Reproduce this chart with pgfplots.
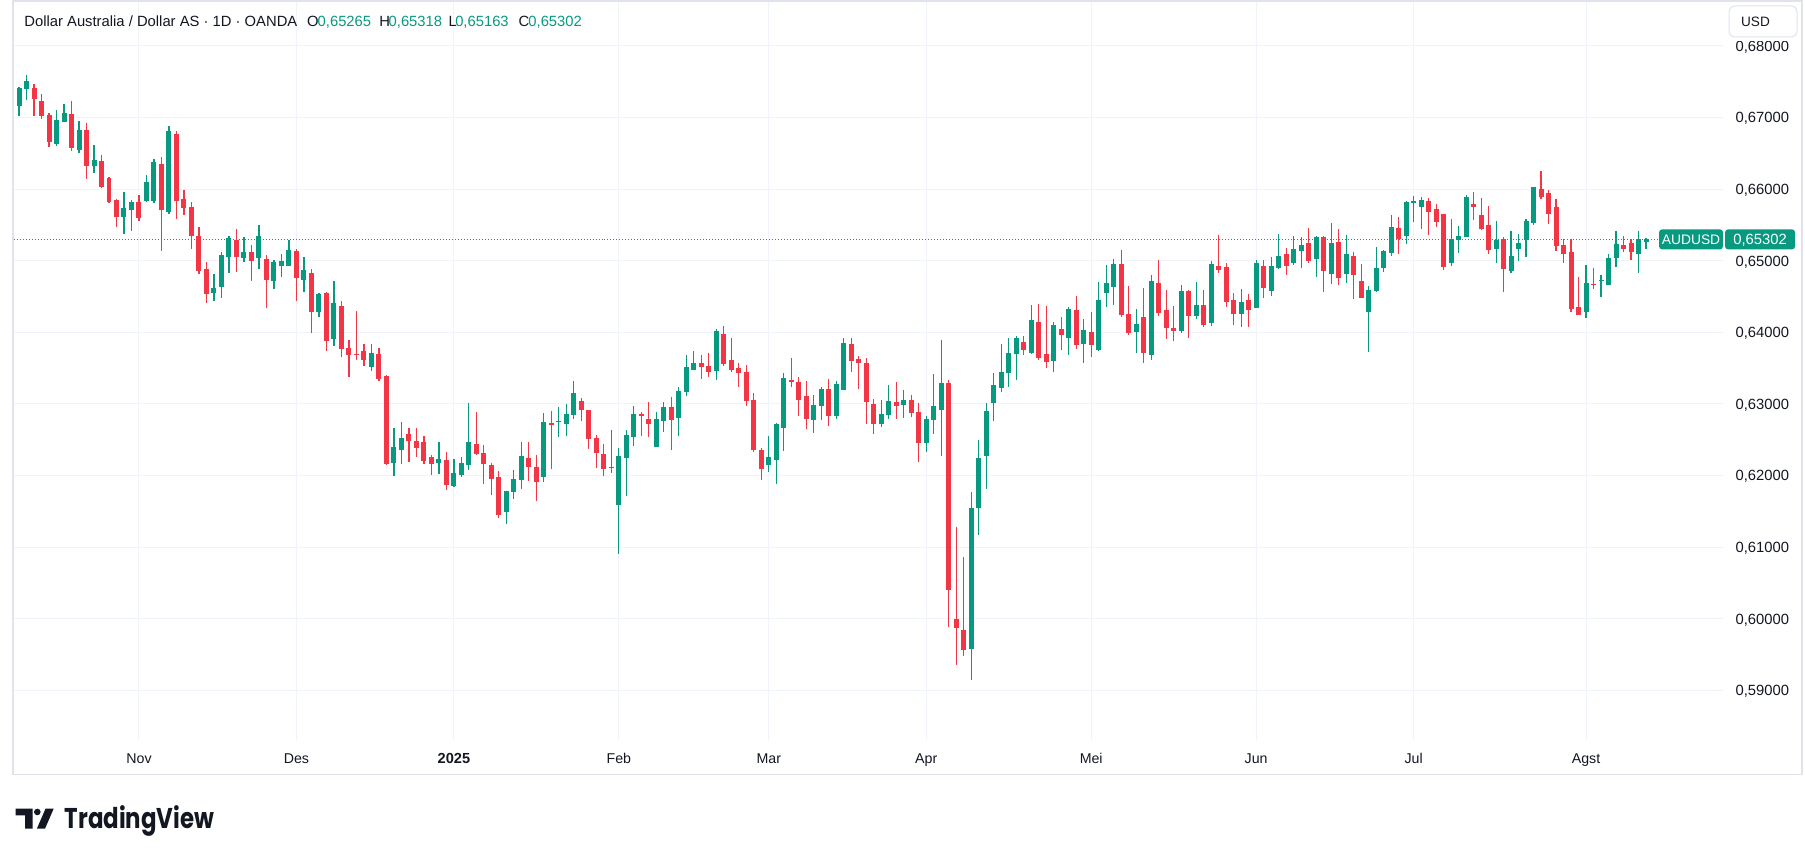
\documentclass[border=0pt]{standalone}
\usepackage{pgfplots}
\pgfplotsset{compat=1.18}
\usepackage{pgfplotstable}
\usepackage{graphicx}
\usepackage{fontspec}
\setmainfont{Liberation Sans}
\newfontfamily\logofont{Poppins}
\definecolor{tvg}{HTML}{089981}
\definecolor{tvr}{HTML}{F23645}
\definecolor{gridc}{HTML}{F0F3FA}
\definecolor{bordc}{HTML}{E0E3EB}
\definecolor{txt}{HTML}{131722}

\pgfplotstableread{
i o h l c
0 0.67167 0.67433 0.67028 0.67419
1 0.67400 0.67600 0.67247 0.67512
5 0.66633 0.67107 0.66605 0.66967
6 0.66944 0.67191 0.66944 0.67065
8 0.66553 0.66953 0.66512 0.66828
10 0.66330 0.66619 0.66219 0.66409
14 0.65605 0.65963 0.65381 0.65740
15 0.65716 0.65851 0.65409 0.65823
17 0.65837 0.66200 0.65814 0.66102
18 0.65837 0.66423 0.65800 0.66381
20 0.65688 0.66884 0.65660 0.66814
26 0.64549 0.64809 0.64437 0.64614
27 0.64633 0.65116 0.64479 0.65074
28 0.65051 0.65344 0.64828 0.65312
30 0.65037 0.65326 0.64981 0.65116
32 0.65037 0.65493 0.64884 0.65340
34 0.64716 0.65005 0.64605 0.64977
35 0.64926 0.65088 0.64772 0.64991
36 0.64926 0.65284 0.64926 0.65144
38 0.64730 0.65047 0.64563 0.64865
40 0.64284 0.64544 0.64214 0.64530
42 0.63907 0.64712 0.63805 0.64405
47 0.63516 0.63833 0.63460 0.63707
50 0.62177 0.62660 0.61995 0.62395
51 0.62358 0.62749 0.62158 0.62521
56 0.62177 0.62465 0.62023 0.62228
58 0.61856 0.62228 0.61842 0.62042
59 0.62009 0.62256 0.61981 0.62172
60 0.62149 0.63019 0.62079 0.62465
65 0.61498 0.61786 0.61330 0.61786
66 0.61777 0.62079 0.61679 0.61953
67 0.61944 0.62470 0.61819 0.62274
70 0.61986 0.62874 0.61916 0.62749
72 0.62744 0.62958 0.62540 0.62763
73 0.62726 0.63000 0.62553 0.62860
74 0.62851 0.63321 0.62791 0.63153
79 0.62112 0.62637 0.62042 0.62121
80 0.61595 0.62386 0.60898 0.62274
81 0.62251 0.62633 0.61721 0.62567
82 0.62544 0.62972 0.62414 0.62860
85 0.62405 0.62888 0.62405 0.62791
86 0.62767 0.63028 0.62614 0.62958
88 0.62809 0.63237 0.62558 0.63181
89 0.63172 0.63684 0.63116 0.63516
90 0.63479 0.63740 0.63479 0.63572
93 0.63460 0.64042 0.63330 0.64014
100 0.62153 0.62553 0.62056 0.62260
101 0.62223 0.62735 0.61888 0.62721
102 0.62670 0.63433 0.62349 0.63363
106 0.62781 0.63126 0.62600 0.62986
107 0.62977 0.63237 0.62781 0.63209
109 0.62837 0.63321 0.62795 0.63279
110 0.63200 0.63921 0.63200 0.63851
115 0.62726 0.63056 0.62684 0.62860
116 0.62851 0.63265 0.62795 0.63042
118 0.62986 0.63195 0.62809 0.63056
121 0.62460 0.62833 0.62335 0.62791
122 0.62781 0.63419 0.62586 0.62972
123 0.62921 0.63893 0.62279 0.63293
127 0.59581 0.61767 0.59149 0.61544
128 0.61549 0.62493 0.61172 0.62242
129 0.62274 0.63009 0.61814 0.62898
130 0.63014 0.63428 0.62763 0.63260
131 0.63223 0.63833 0.63167 0.63442
132 0.63433 0.63916 0.63237 0.63707
133 0.63698 0.63944 0.63335 0.63916
135 0.63707 0.64377 0.63693 0.64167
138 0.63600 0.64140 0.63447 0.64098
140 0.63921 0.64349 0.63684 0.64321
142 0.63837 0.64181 0.63572 0.64028
144 0.63753 0.64698 0.63740 0.64447
145 0.64549 0.64935 0.64353 0.64684
146 0.64633 0.65019 0.64381 0.64949
149 0.64005 0.64321 0.63712 0.64112
151 0.63684 0.64795 0.63614 0.64712
155 0.64019 0.64656 0.63991 0.64572
157 0.64228 0.64698 0.64186 0.64377
159 0.64130 0.64991 0.64088 0.64949
163 0.64256 0.64600 0.64074 0.64419
165 0.64340 0.65005 0.64340 0.64963
167 0.64577 0.65047 0.64507 0.64921
168 0.64893 0.65381 0.64879 0.65060
170 0.64963 0.65340 0.64935 0.65158
171 0.65130 0.65326 0.64893 0.65214
173 0.65019 0.65340 0.64767 0.65326
175 0.64809 0.65521 0.64670 0.65242
177 0.64809 0.65367 0.64684 0.65088
180 0.64279 0.64642 0.63721 0.64586
181 0.64572 0.65186 0.64558 0.64893
182 0.64893 0.65144 0.64837 0.65130
183 0.65102 0.65633 0.65060 0.65465
185 0.65353 0.65828 0.65228 0.65814
186 0.65800 0.65898 0.65535 0.65828
187 0.65758 0.65884 0.65437 0.65842
191 0.64963 0.65586 0.64921 0.65307
192 0.65284 0.65488 0.65102 0.65349
193 0.65326 0.65921 0.65326 0.65893
197 0.65158 0.65558 0.64963 0.65293
199 0.64851 0.65419 0.64823 0.65070
200 0.65158 0.65377 0.64991 0.65251
201 0.65284 0.65586 0.65047 0.65558
202 0.65530 0.66033 0.65493 0.66033
209 0.64288 0.64944 0.64205 0.64693
211 0.64726 0.64805 0.64498 0.64735
212 0.64665 0.65098 0.64665 0.65042
213 0.65042 0.65419 0.64907 0.65237
216 0.65098 0.65419 0.64833 0.65307
217 0.65265 0.65318 0.65163 0.65302
}\upT

\pgfplotstableread{
i o h l c
2 0.67419 0.67474 0.67028 0.67260
3 0.67233 0.67330 0.66986 0.67028
4 0.67037 0.67065 0.66595 0.66665
7 0.67051 0.67233 0.66535 0.66581
9 0.66828 0.66926 0.66149 0.66330
11 0.66395 0.66479 0.66023 0.66037
12 0.66158 0.66172 0.65805 0.65823
13 0.65851 0.65865 0.65465 0.65605
16 0.65823 0.65921 0.65549 0.65591
19 0.66353 0.66451 0.65130 0.65716
21 0.66772 0.66814 0.65586 0.65828
22 0.65865 0.65991 0.65633 0.65744
23 0.65753 0.65823 0.65158 0.65340
24 0.65353 0.65465 0.64819 0.64851
25 0.64879 0.64977 0.64409 0.64535
29 0.65293 0.65437 0.64842 0.65051
31 0.65116 0.65214 0.64716 0.64995
33 0.65019 0.65074 0.64340 0.64730
37 0.65130 0.65158 0.64437 0.64758
39 0.64823 0.64879 0.63991 0.64284
41 0.64544 0.64563 0.63740 0.63879
43 0.64363 0.64433 0.63656 0.63767
44 0.63777 0.63888 0.63377 0.63684
45 0.63693 0.64293 0.63614 0.63684
46 0.63735 0.63833 0.63530 0.63614
48 0.63693 0.63777 0.63321 0.63349
49 0.63391 0.63405 0.62144 0.62158
52 0.62577 0.62660 0.62191 0.62484
53 0.62479 0.62660 0.62256 0.62386
54 0.62465 0.62549 0.62163 0.62205
55 0.62256 0.62284 0.62010 0.62163
57 0.62214 0.62326 0.61800 0.61870
61 0.62442 0.62888 0.62288 0.62302
62 0.62316 0.62428 0.61888 0.62167
63 0.62149 0.62177 0.61735 0.61958
64 0.61981 0.62065 0.61414 0.61456
68 0.62247 0.62470 0.61930 0.62126
69 0.62121 0.62288 0.61651 0.61916
71 0.62730 0.62902 0.62098 0.62712
75 0.63042 0.63084 0.62767 0.62921
76 0.62916 0.62916 0.62377 0.62516
77 0.62526 0.62567 0.62112 0.62321
78 0.62302 0.62442 0.62000 0.62098
83 0.62860 0.62888 0.62553 0.62837
84 0.62791 0.63028 0.62540 0.62726
87 0.62958 0.63098 0.62363 0.62781
91 0.63572 0.63684 0.63353 0.63521
92 0.63530 0.63712 0.63381 0.63451
94 0.63972 0.64084 0.63526 0.63553
95 0.63609 0.63916 0.63442 0.63470
96 0.63502 0.63572 0.63237 0.63433
97 0.63447 0.63544 0.62972 0.63047
98 0.63056 0.63153 0.62330 0.62358
99 0.62358 0.62386 0.61944 0.62098
103 0.63340 0.63642 0.63242 0.63312
104 0.63307 0.63377 0.62837 0.63060
105 0.63112 0.63321 0.62656 0.62795
108 0.63209 0.63349 0.62698 0.62837
111 0.63837 0.63921 0.63451 0.63605
112 0.63628 0.63670 0.63214 0.63577
113 0.63572 0.63642 0.62726 0.63033
114 0.63000 0.63070 0.62586 0.62726
117 0.63028 0.63307 0.62795 0.62977
119 0.63056 0.63126 0.62823 0.62879
120 0.62888 0.63014 0.62195 0.62460
124 0.63293 0.63335 0.59879 0.60409
125 0.60000 0.61284 0.59349 0.59865
126 0.59842 0.60860 0.59484 0.59567
134 0.63860 0.63944 0.63679 0.63753
136 0.64140 0.64391 0.63614 0.63642
137 0.63693 0.64363 0.63502 0.63586
139 0.64042 0.64209 0.63749 0.63958
141 0.64307 0.64502 0.63767 0.63823
143 0.64000 0.64279 0.63656 0.63823
147 0.64949 0.65144 0.64214 0.64242
148 0.64251 0.64642 0.63963 0.63991
150 0.64209 0.64614 0.63572 0.63712
152 0.64684 0.65005 0.64228 0.64270
153 0.64307 0.64586 0.63907 0.64060
154 0.64056 0.64363 0.63879 0.64019
156 0.64572 0.64586 0.63921 0.64228
158 0.64377 0.64586 0.64074 0.64102
160 0.64921 0.65367 0.64828 0.64870
161 0.64907 0.64963 0.64353 0.64423
162 0.64447 0.64544 0.64102 0.64256
164 0.64447 0.64530 0.64074 0.64312
166 0.64921 0.65005 0.64479 0.64619
169 0.65088 0.65172 0.64795 0.64921
172 0.65242 0.65451 0.64963 0.64991
174 0.65326 0.65340 0.64558 0.64851
176 0.65256 0.65437 0.64656 0.64753
178 0.65060 0.65116 0.64460 0.64795
179 0.64712 0.64949 0.64474 0.64474
184 0.65451 0.65605 0.65088 0.65298
188 0.65828 0.65870 0.65367 0.65688
189 0.65726 0.65795 0.65465 0.65535
190 0.65656 0.65656 0.64865 0.64907
194 0.65795 0.65963 0.65572 0.65753
195 0.65642 0.65879 0.65433 0.65447
196 0.65502 0.65767 0.65088 0.65144
198 0.65307 0.65335 0.64558 0.64879
203 0.66005 0.66256 0.65865 0.65893
204 0.65949 0.65991 0.65516 0.65656
205 0.65753 0.65865 0.65140 0.65209
206 0.65223 0.65307 0.64972 0.65098
207 0.65126 0.65307 0.64279 0.64330
208 0.64358 0.64777 0.64247 0.64247
210 0.64679 0.64902 0.64609 0.64665
214 0.65223 0.65349 0.65126 0.65167
215 0.65251 0.65307 0.65014 0.65126
}\dnT

\tikzset{lab/.style={inner sep=0pt, text=txt, text height=5.3pt, text depth=0pt, font=\fontsize{7.4pt}{8pt}\selectfont}}

\begin{document}
\begin{tikzpicture}
\begin{scope}[shift={(-6.5pt,370pt)},x=0.5pt,y=-0.5pt]
\fill[white] (0,0) rectangle (1805,849);
\draw[bordc, line width=0.75pt] (12.5,1) rectangle (1802,775);
\end{scope}
\begin{axis}[
  at={(0,0)}, anchor=south west, scale only axis,
  width=855pt, height=369pt,
  xmin=-0.7067, xmax=227.27, ymin=0.583115, ymax=0.686144,
  axis line style={draw=none},
  xtick={16,37,58,80,100,121,143,165,186,209},
  ytick={0.59,0.60,0.61,0.62,0.63,0.64,0.65,0.66,0.67,0.68},
  xticklabels={}, yticklabels={},
  major tick length=0pt,
  grid=major, major grid style={draw=gridc, line width=0.5pt},
  clip=false,
]
\addplot[tvg, line width=0.5pt, dash pattern=on 0.5pt off 1pt, forget plot] coordinates {(-0.7067,0.65302) (218.76,0.65302)};
% wicks
\addplot[draw=none, mark=none, forget plot, error bars/.cd, y dir=minus, y explicit, error mark=none,
  error bar style={draw=tvg, solid, line width=0.6pt}]
  table[x=i, y=h, y error minus expr={\thisrow{h}-\thisrow{l}}] {\upT};
\addplot[draw=none, mark=none, forget plot, error bars/.cd, y dir=minus, y explicit, error mark=none,
  error bar style={draw=tvr, solid, line width=0.6pt}]
  table[x=i, y=h, y error minus expr={\thisrow{h}-\thisrow{l}}] {\dnT};
% bodies
\addplot[draw=none, mark=none, forget plot, error bars/.cd, y dir=minus, y explicit, error mark=none,
  error bar style={draw=tvg, solid, line width=2.5pt, line cap=butt}]
  table[x=i, y=c, y error minus expr={max(\thisrow{c}-\thisrow{o},0.00014)}] {\upT};
\addplot[draw=none, mark=none, forget plot, error bars/.cd, y dir=minus, y explicit, error mark=none,
  error bar style={draw=tvr, solid, line width=2.5pt, line cap=butt}]
  table[x=i, y=o, y error minus expr={max(\thisrow{o}-\thisrow{c},0.00014)}] {\dnT};
% price scale labels
\node[lab, anchor=west] at (axis cs:228.89,0.68) {0,68000};
\node[lab, anchor=west] at (axis cs:228.89,0.67) {0,67000};
\node[lab, anchor=west] at (axis cs:228.89,0.66) {0,66000};
\node[lab, anchor=west] at (axis cs:228.89,0.65) {0,65000};
\node[lab, anchor=west] at (axis cs:228.89,0.64) {0,64000};
\node[lab, anchor=west] at (axis cs:228.89,0.63) {0,63000};
\node[lab, anchor=west] at (axis cs:228.89,0.62) {0,62000};
\node[lab, anchor=west] at (axis cs:228.89,0.61) {0,61000};
\node[lab, anchor=west] at (axis cs:228.89,0.60) {0,60000};
\node[lab, anchor=west] at (axis cs:228.89,0.59) {0,59000};
% time labels
\node[lab, anchor=center, font=\fontsize{7.1pt}{8pt}\selectfont] at (axis cs:16,0.580462) {Nov};
\node[lab, anchor=center, font=\fontsize{7.1pt}{8pt}\selectfont] at (axis cs:37,0.580462) {Des};
\node[lab, anchor=center, font=\fontsize{7.3pt}{8pt}\selectfont\bfseries] at (axis cs:58,0.580462) {2025};
\node[lab, anchor=center, font=\fontsize{7.1pt}{8pt}\selectfont] at (axis cs:80,0.580462) {Feb};
\node[lab, anchor=center, font=\fontsize{7.1pt}{8pt}\selectfont] at (axis cs:100,0.580462) {Mar};
\node[lab, anchor=center, font=\fontsize{7.1pt}{8pt}\selectfont] at (axis cs:121,0.580462) {Apr};
\node[lab, anchor=center, font=\fontsize{7.1pt}{8pt}\selectfont] at (axis cs:143,0.580462) {Mei};
\node[lab, anchor=center, font=\fontsize{7.1pt}{8pt}\selectfont] at (axis cs:165,0.580462) {Jun};
\node[lab, anchor=center, font=\fontsize{7.1pt}{8pt}\selectfont] at (axis cs:186,0.580462) {Jul};
\node[lab, anchor=center, font=\fontsize{7.1pt}{8pt}\selectfont] at (axis cs:209,0.580462) {Agst};
\end{axis}
\begin{scope}[shift={(-6.5pt,370pt)},x=0.5pt,y=-0.5pt]
% cover on top of price scale + currency box
\fill[white] (1724,2) rectangle (1801,41);
\draw[bordc, fill=white, rounded corners=3pt, line width=0.5pt] (1729,6) rectangle (1797,37);
\node[lab, anchor=west, font=\fontsize{6.8pt}{8pt}\selectfont] at (1740.7,21.5) {USD};
% header
\node[lab, anchor=west] at (23.3,21) {Dollar Australia / Dollar AS · 1D · OANDA};
\node[lab, anchor=west] at (306,21) {O};
\node[lab, anchor=west, text=tvg] at (316.7,21) {0,65265};
\node[lab, anchor=west] at (378.3,21) {H};
\node[lab, anchor=west, text=tvg] at (387.7,21) {0,65318};
\node[lab, anchor=west] at (447.7,21) {L};
\node[lab, anchor=west, text=tvg] at (454.3,21) {0,65163};
\node[lab, anchor=west] at (517.7,21) {C};
\node[lab, anchor=west, text=tvg] at (527.5,21) {0,65302};
% last price labels
\fill[tvg, rounded corners=1.5pt] (1659,229.5) rectangle (1723,249.5);
\node[lab, anchor=center, text=white, font=\fontsize{6.9pt}{8pt}\selectfont] at (1691,239.5) {AUDUSD};
\fill[tvg, rounded corners=1.5pt] (1725,229.5) rectangle (1795,249.5);
\node[lab, anchor=center, text=white] at (1760,239.5) {0,65302};
% logo
\fill[txt] (15,809) -- (32,809) -- (32,829) -- (24.3,829) -- (24.3,815.7) -- (15,815.7) -- cycle;
\fill[txt] (36.6,812.3) circle[radius=3.3];
\fill[txt] (44.8,809) -- (53,809) -- (44.3,829) -- (36.2,829) -- cycle;
\node[anchor=base west, inner sep=0pt, text=txt] at (63.6,829) {\resizebox{74.8pt}{\height}{\logofont\bfseries\fontsize{14.3pt}{15pt}\selectfont TradingView}};
\end{scope}
\end{tikzpicture}
\end{document}
